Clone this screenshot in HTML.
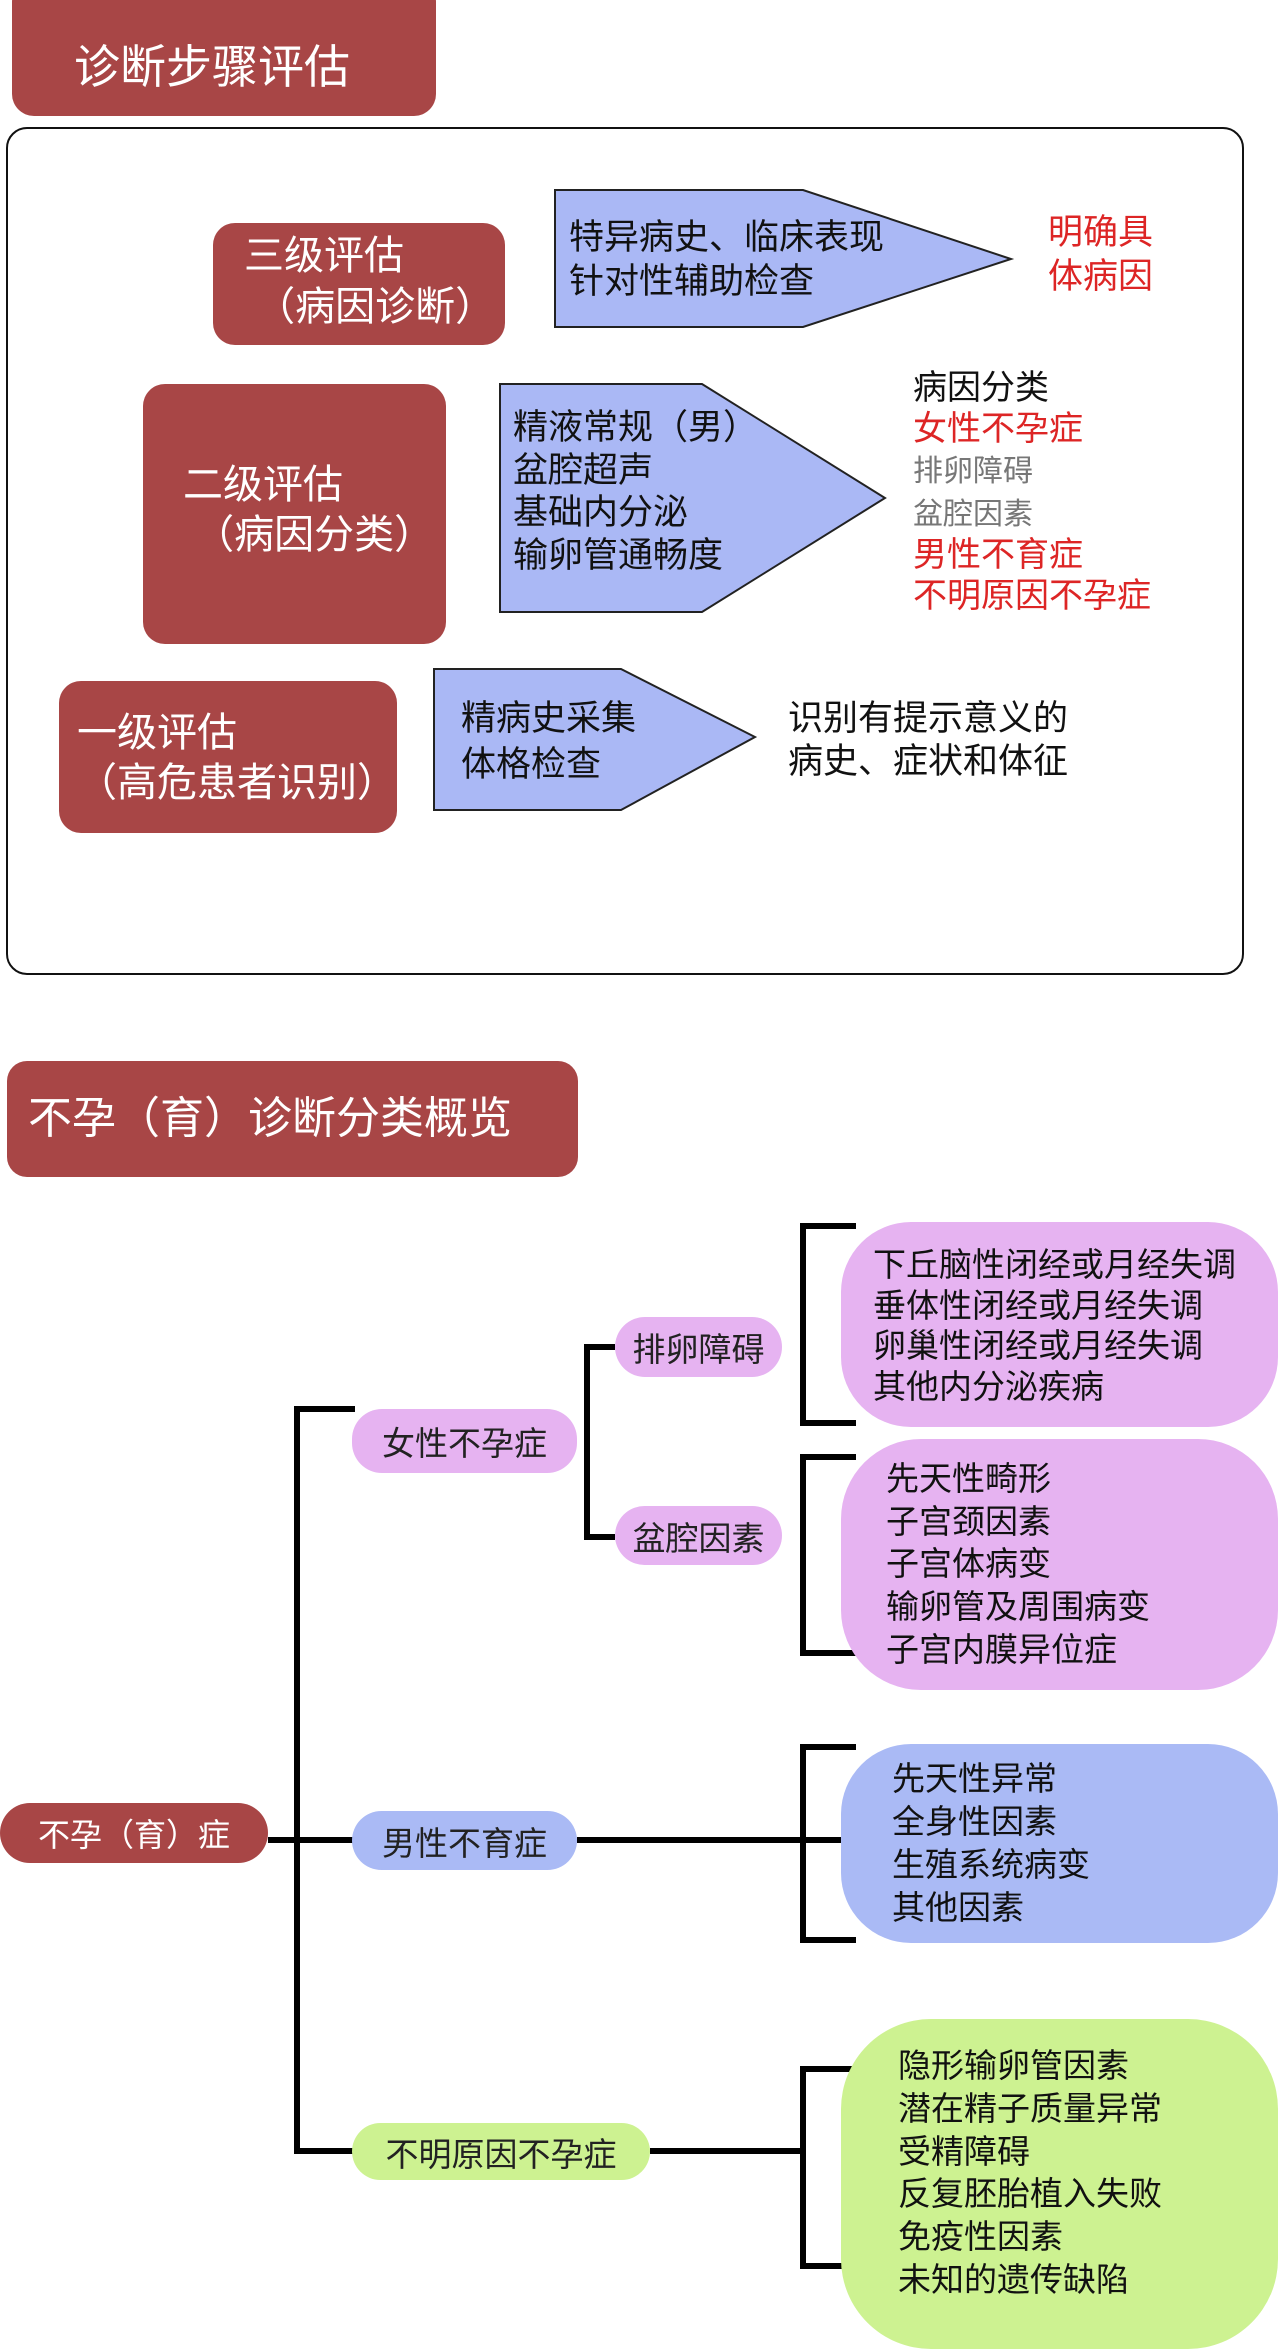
<!DOCTYPE html>
<html><head><meta charset="utf-8"><style>
body{margin:0;width:1280px;height:2333px;background:#fff;position:relative;overflow:hidden;font-family:"Liberation Sans","Noto Sans CJK SC",sans-serif;color:#111}
.a{position:absolute;white-space:nowrap}
.red{background:#a84646;color:#fff;border-radius:22px}
.pill{position:absolute;border-radius:30px;display:flex;align-items:center;justify-content:center;font-size:33px;color:#222}
.pk{background:#e6b3f1}.bl{background:#aabaf5}.gr{background:#cdf291}
</style></head><body>
<svg class="a" style="left:0;top:0" width="1280" height="2333">
<rect x="7" y="128" width="1236" height="846" rx="20" fill="#fff" stroke="#111" stroke-width="2"/>
<polygon points="555,190 803,190 1011,259 803,327 555,327" fill="#aab8f5" stroke="#222" stroke-width="2"/>
<polygon points="500,384 702,384 885,498 702,612 500,612" fill="#aab8f5" stroke="#222" stroke-width="2"/>
<polygon points="434,669 621,669 755,737 621,810 434,810" fill="#aab8f5" stroke="#222" stroke-width="2"/>
<g fill="none" stroke="#000" stroke-width="6">
<path d="M355,1409 H297 V2151 H355"/>
<path d="M268,1840 H355"/>
<path d="M577,1840 H856"/>
<path d="M650,2151 H803"/>
<path d="M615,1347 H587 V1537 H615"/>
<path d="M856,1226 H803 V1423 H856"/>
<path d="M856,1457 H803 V1653 H856"/>
<path d="M856,1747 H803 V1940 H856"/>
<path d="M856,2069 H803 V2266 H856"/>
</g>
</svg>
<div class="a red" style="left:12px;top:-20px;width:424px;height:136px"></div>
<div class="a" style="left:74px;top:38px;font-size:46px;color:#fff;line-height:58px">诊断步骤评估</div>

<div class="a red" style="left:213px;top:223px;width:292px;height:122px"></div>
<div class="a" style="left:244px;top:231px;font-size:40px;color:#fff;line-height:51px">三级评估<br>&nbsp;（病因诊断）</div>
<div class="a red" style="left:143px;top:384px;width:303px;height:260px"></div>
<div class="a" style="left:183px;top:460px;font-size:40px;color:#fff;line-height:50px">二级评估<br>&nbsp;（病因分类）</div>
<div class="a red" style="left:59px;top:681px;width:338px;height:152px"></div>
<div class="a" style="left:77px;top:708px;font-size:40px;color:#fff;line-height:50px">一级评估<br>（高危患者识别）</div>

<div class="a" style="left:569px;top:216px;font-size:35px;line-height:44px">特异病史、临床表现<br>针对性辅助检查</div>
<div class="a" style="left:1048px;top:211px;font-size:35px;line-height:44px;color:#dd2525">明确具<br>体病因</div>
<div class="a" style="left:513px;top:407px;font-size:35px;line-height:42.7px">精液常规（男）<br>盆腔超声<br>基础内分泌<br>输卵管通畅度</div>
<div class="a" style="left:913px;top:368px;font-size:34px;line-height:41.2px">病因分类<br><span style="color:#dd2525">女性不孕症</span><br><span style="color:#777;font-size:30px">排卵障碍</span><br><span style="color:#777;font-size:30px">盆腔因素</span><br><span style="color:#dd2525">男性不育症</span><br><span style="color:#dd2525">不明原因不孕症</span></div>
<div class="a" style="left:461px;top:696px;font-size:35px;line-height:46px">精病史采集<br>体格检查</div>
<div class="a" style="left:788px;top:697px;font-size:35px;line-height:43px">识别有提示意义的<br>病史、症状和体征</div>

<div class="a red" style="left:7px;top:1061px;width:571px;height:116px;border-radius:20px"></div>
<div class="a" style="left:28px;top:1092px;font-size:44px;color:#fff;line-height:54px">不孕（育）诊断分类概览</div>

<div class="pill red" style="left:0;top:1803px;width:268px;height:60px;color:#fff;font-size:32px">不孕（育）症</div>
<div class="pill pk" style="left:352px;top:1409px;width:225px;height:64px">女性不孕症</div>
<div class="pill bl" style="left:352px;top:1811px;width:225px;height:59px">男性不育症</div>
<div class="pill gr" style="left:352px;top:2123px;width:298px;height:57px">不明原因不孕症</div>
<div class="pill pk" style="left:615px;top:1317px;width:167px;height:60px">排卵障碍</div>
<div class="pill pk" style="left:615px;top:1506px;width:167px;height:59px">盆腔因素</div>

<div class="a pk" style="left:841px;top:1222px;width:437px;height:205px;border-radius:70px"></div>
<div class="a" style="left:873px;top:1245px;font-size:33px;line-height:40.5px">下丘脑性闭经或月经失调<br>垂体性闭经或月经失调<br>卵巢性闭经或月经失调<br>其他内分泌疾病</div>
<div class="a pk" style="left:841px;top:1439px;width:437px;height:251px;border-radius:80px"></div>
<div class="a" style="left:886px;top:1458px;font-size:33px;line-height:42.7px">先天性畸形<br>子宫颈因素<br>子宫体病变<br>输卵管及周围病变<br>子宫内膜异位症</div>
<div class="a bl" style="left:841px;top:1744px;width:437px;height:199px;border-radius:70px"></div>
<div class="a" style="left:892px;top:1757px;font-size:33px;line-height:43px">先天性异常<br>全身性因素<br>生殖系统病变<br>其他因素</div>
<div class="a gr" style="left:841px;top:2019px;width:437px;height:330px;border-radius:90px"></div>
<div class="a" style="left:898px;top:2045px;font-size:33px;line-height:42.8px">隐形输卵管因素<br>潜在精子质量异常<br>受精障碍<br>反复胚胎植入失败<br>免疫性因素<br>未知的遗传缺陷</div>
</body></html>
